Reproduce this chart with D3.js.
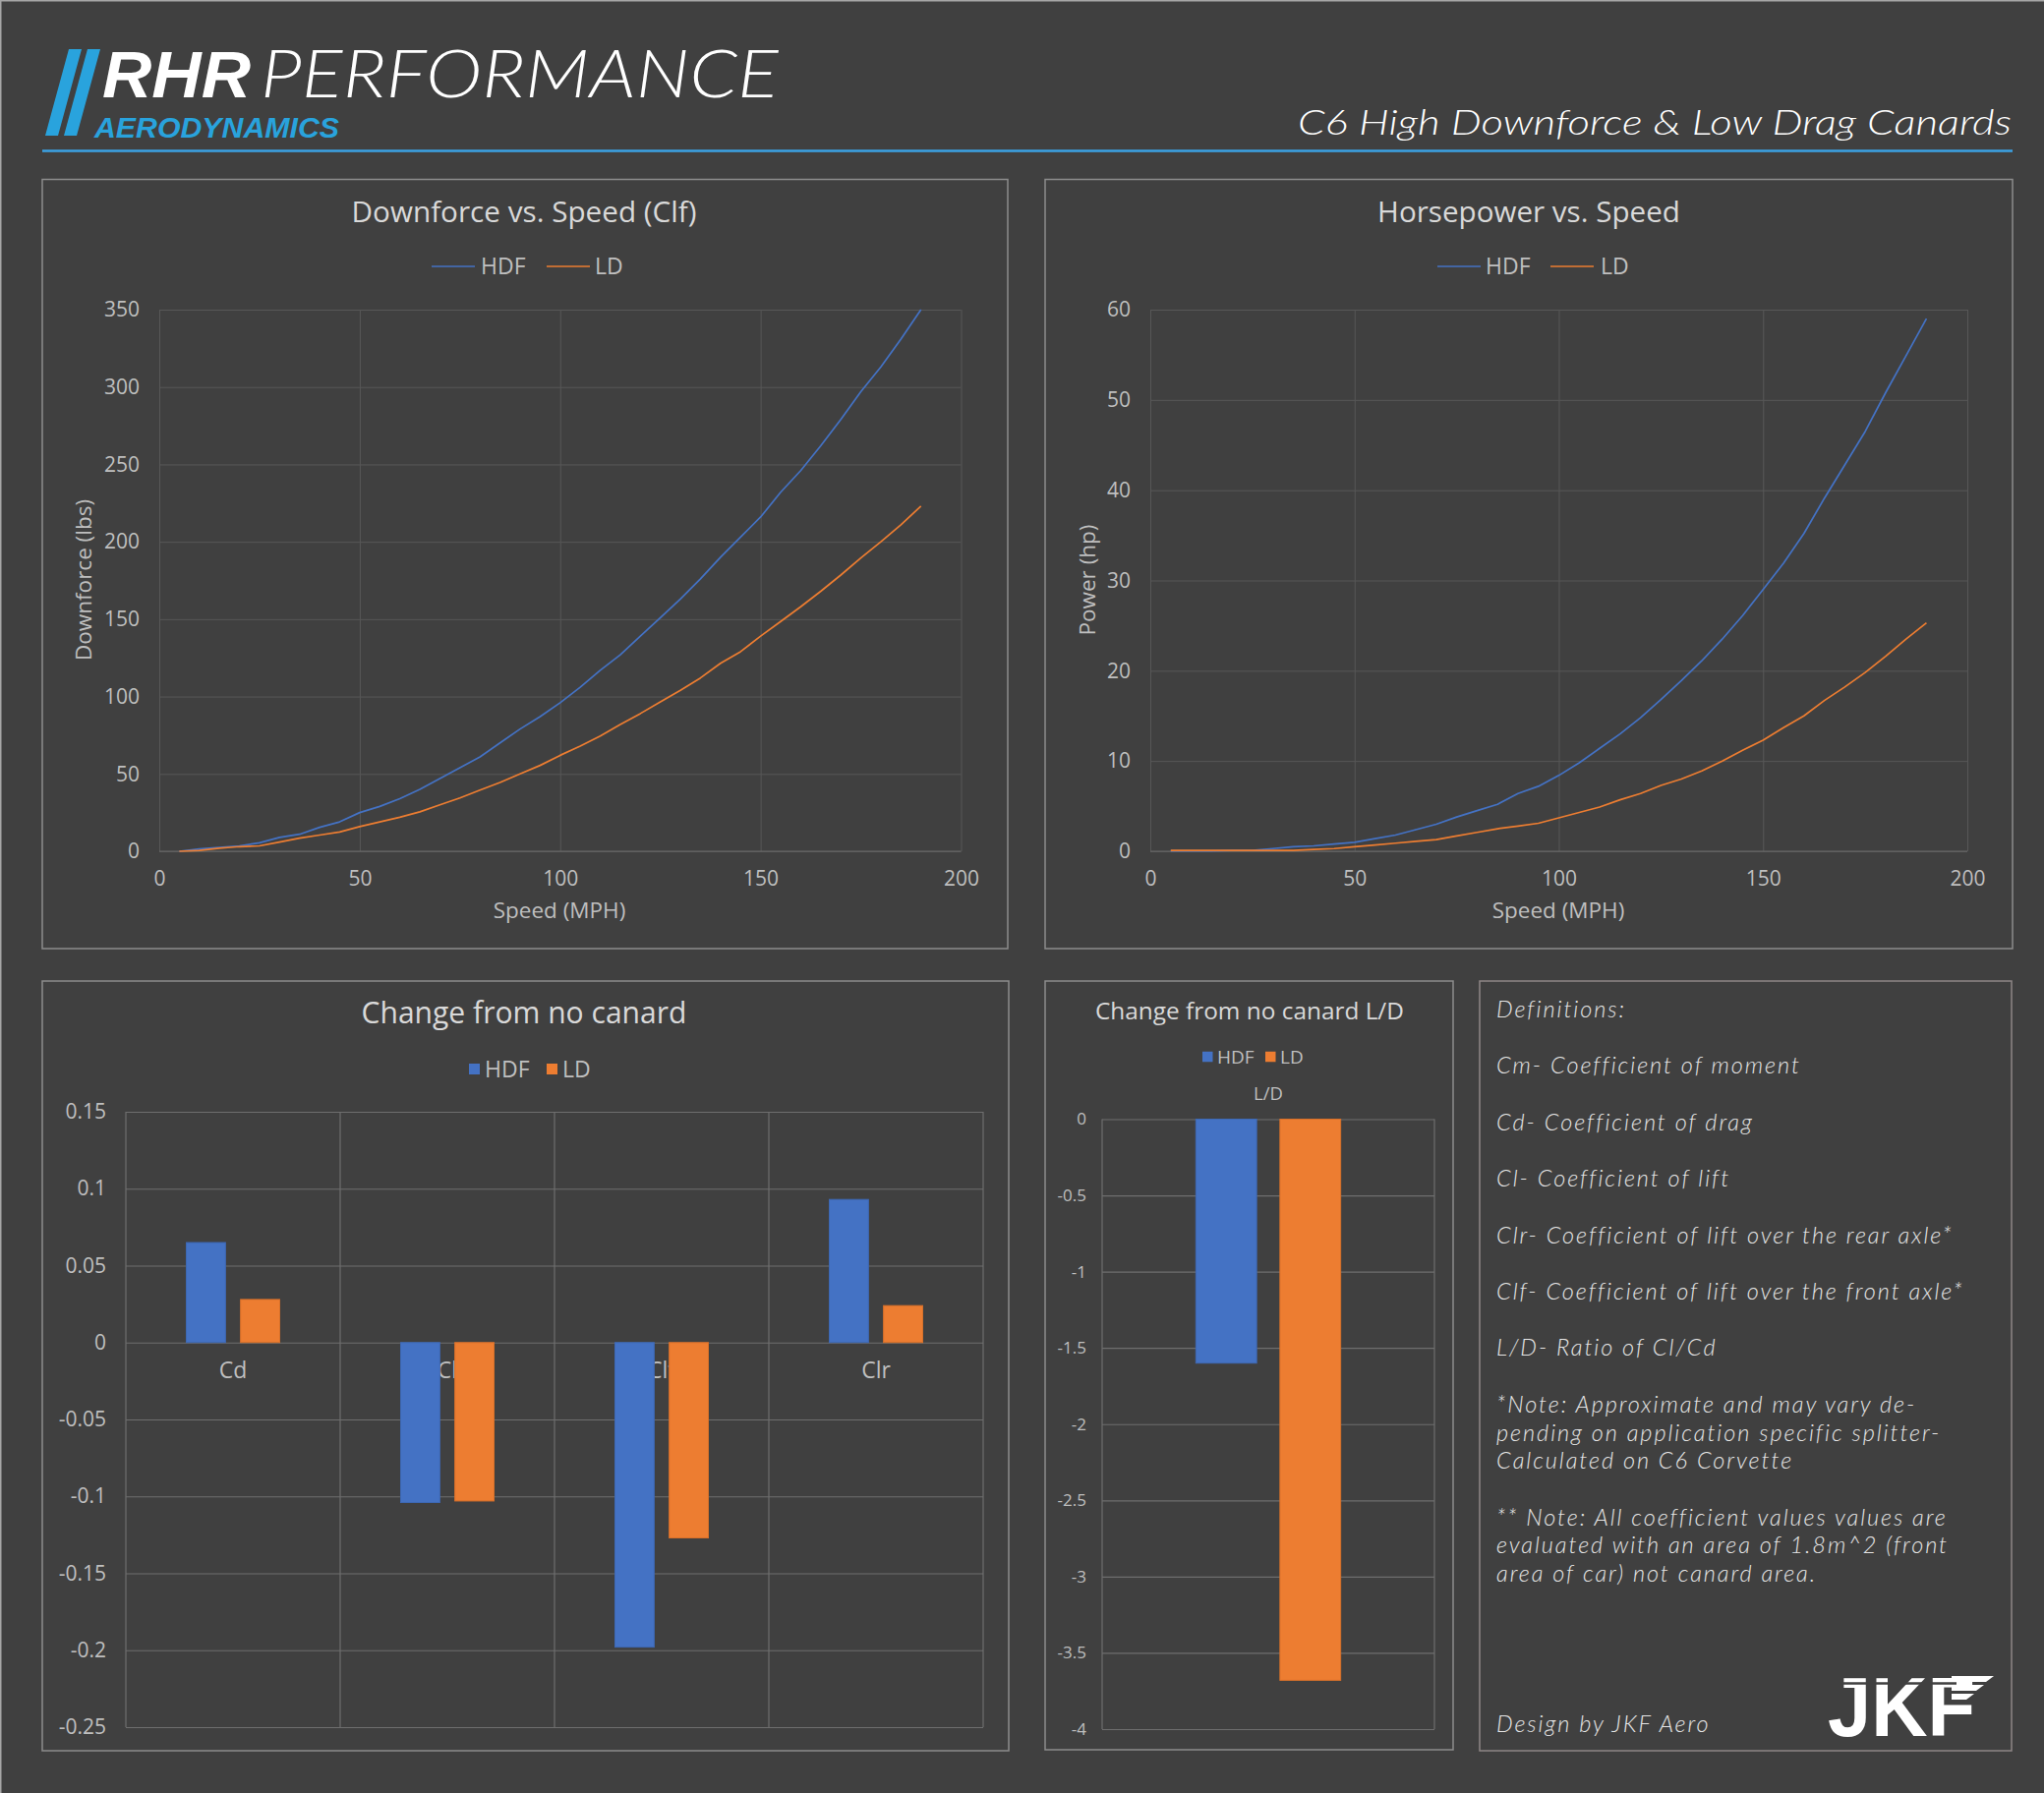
<!DOCTYPE html>
<html><head><meta charset="utf-8">
<script src="https://cdn.jsdelivr.net/npm/d3@7"></script>
<style>html,body{margin:0;padding:0;background:#404040;}svg{display:block}</style>
</head><body>
<script>
// ---------------- DATA ----------------
const speeds = [5,10,15,20,25,30,35,40,45,50,55,60,65,70,75,80,85,90,95,100,105,110,115,120,125,130,135,140,145,150,155,160,165,170,175,180,185,190];
const downforceHDF = [0,1.5,2.5,3.5,5.5,9,11,15.5,19,25,29,34,40,47,54,61,70,79,87,96,106,117,127,139,151,163,176,190,203,216,232,246,262,279,297,313,331,350];
const downforceLD = [0,0.5,2,3,3.5,6,8.5,10.5,12.5,16,19,22,25.5,30,34.5,39.5,44.5,50,55.5,62,68,74.5,82,89,96.5,104,112,121.5,129,139,148.5,158,168,178.5,189.5,200,211,223];
const powerHDF = [0.05,0.05,0.05,0.1,0.1,0.3,0.5,0.6,0.8,1.0,1.4,1.8,2.4,3.0,3.8,4.5,5.2,6.4,7.2,8.4,9.8,11.4,13.0,14.8,16.8,18.9,21.1,23.5,26.1,29.0,31.9,35.2,39.1,42.8,46.5,50.8,54.9,59.0];
const powerLD = [0.1,0.1,0.1,0.1,0.1,0.1,0.1,0.2,0.3,0.5,0.7,0.9,1.1,1.3,1.7,2.1,2.5,2.8,3.1,3.7,4.3,4.9,5.7,6.4,7.3,8.0,8.9,10.0,11.2,12.3,13.7,15.0,16.7,18.2,19.8,21.6,23.5,25.3];
const seriesNames = ["HDF","LD"];
const coefCategories = ["Cd","Cl","Clf","Clr"];
const coefHDF = [0.065,-0.104,-0.198,0.093];
const coefLD = [0.028,-0.103,-0.127,0.024];
const ldCategories = ["L/D"];
const ldHDF = [-1.6];
const ldLD = [-3.68];
const speedTicks = [0,50,100,150,200];
const downforceTicks = [0,50,100,150,200,250,300,350];
const powerTicks = [0,10,20,30,40,50,60];
const coefTicks = [0.15,0.1,0.05,0,-0.05,-0.1,-0.15,-0.2,-0.25];
const ldTicks = [0,-0.5,-1,-1.5,-2,-2.5,-3,-3.5,-4];
const definitions = ["Definitions:","","Cm- Coefficient of moment","","Cd- Coefficient of drag","","Cl- Coefficient of lift","","Clr- Coefficient of lift over the rear axle*","","Clf- Coefficient of lift over the front axle*","","L/D- Ratio of Cl/Cd","","*Note: Approximate and may vary de-","pending on application specific splitter-","Calculated on C6 Corvette","","** Note: All coefficient values values are","evaluated with an area of 1.8m^2 (front","area of car) not canard area."];

// ---------------- STYLE ----------------
const W = 2079, H = 1824;
const BG = "#404040";
const C_HDF = "#4472c4", C_LD = "#ed7d31";
const FONT = "'Open Sans', 'Noto Sans', sans-serif";
const TITLE_C = "#d9d9d9", TICK_C = "#bfbfbf";
const colors = {HDF: C_HDF, LD: C_LD};

const svg = d3.select("body").append("svg").attr("width", W).attr("height", H)
  .attr("font-family", FONT);
svg.append("rect").attr("width", W).attr("height", H).attr("fill", BG);
svg.append("line").attr("x1",0).attr("x2",W).attr("y1",0.75).attr("y2",0.75).attr("stroke","#a6a6a6").attr("stroke-width",1.5);
svg.append("line").attr("x1",0.75).attr("x2",0.75).attr("y1",0).attr("y2",H).attr("stroke","#a6a6a6").attr("stroke-width",1.5);

function fit(sel, target) {
  const w = sel.node().getComputedTextLength();
  const fs = parseFloat(sel.attr("font-size"));
  sel.attr("font-size", (fs * target / w).toFixed(2));
  return sel;
}

// ---------------- HEADER ----------------
const BLUE = "#29a3dd";
svg.append("polygon").attr("points","70,50 83,50 59,138 46,138").attr("fill", BLUE);
svg.append("polygon").attr("points","89,50 102,50 78,138 65,138").attr("fill", BLUE);
svg.append("text").attr("x",104).attr("y",99).attr("font-size",67).attr("font-weight",700)
  .attr("font-family","'Liberation Sans', Arial, sans-serif")
  .attr("font-style","italic").attr("fill","#ffffff").attr("textLength",151)
  .attr("lengthAdjust","spacingAndGlyphs").text("RHR");
svg.append("text").attr("x",265).attr("y",99).attr("font-size",68).attr("font-weight",300)
  .attr("font-family","Lato, 'Open Sans', sans-serif")
  .attr("font-style","italic").attr("fill","#ffffff").attr("textLength",527)
  .attr("lengthAdjust","spacingAndGlyphs").text("PERFORMANCE");
svg.append("text").attr("x",96).attr("y",139.5).attr("font-size",29).attr("font-weight",700)
  .attr("font-family","'Liberation Sans', Arial, sans-serif")
  .attr("font-style","italic").attr("fill",BLUE).attr("textLength",249)
  .attr("lengthAdjust","spacingAndGlyphs").text("AERODYNAMICS");
svg.append("text").attr("x",1320).attr("y",137).attr("font-size",35).attr("font-weight",300)
  .attr("font-family","Lato, 'Open Sans', sans-serif")
  .attr("font-style","italic").attr("fill","#ffffff").attr("textLength",726)
  .attr("lengthAdjust","spacingAndGlyphs").text("C6 High Downforce & Low Drag Canards");
svg.append("line").attr("x1",43).attr("x2",2047).attr("y1",153.5).attr("y2",153.5)
  .attr("stroke","#3ba2e4").attr("stroke-width",2.5);

// ---------------- PANELS ----------------
function panel(x0,y0,x1,y1,stroke){
  svg.append("rect").attr("x",x0).attr("y",y0).attr("width",x1-x0).attr("height",y1-y0)
    .attr("fill","none").attr("stroke",stroke||"#8c8c8c").attr("stroke-width",1.5);
}
panel(43,182.5,1025,965);
panel(1063,182.5,2047,965);
panel(43,998,1026,1781);
panel(1063,998,1478,1780);
panel(1505,998,2046,1781,"#8e8686");

// ---------------- LINE CHARTS ----------------
function lineChart(o){
  const g = svg.append("g");
  const x = d3.scaleLinear().domain([0,200]).range([o.px0,o.px1]);
  const y = d3.scaleLinear().domain(o.yDomain).range([o.py0,o.py1]);
  const ya = g.append("g").attr("transform",`translate(${o.px0},0)`)
    .call(d3.axisLeft(y).tickValues(o.yTicks).tickSize(-(o.px1-o.px0)).tickPadding(20).tickFormat(d=>String(d)));
  const xa = g.append("g").attr("transform",`translate(0,${o.py0})`)
    .call(d3.axisBottom(x).tickValues(speedTicks).tickSize(-(o.py0-o.py1)).tickPadding(20).tickFormat(d=>String(d)));
  [ya,xa].forEach(a=>{
    a.select(".domain").remove();
    a.selectAll(".tick line").attr("stroke","#575757").attr("stroke-width",1);
    a.selectAll(".tick text").attr("fill",TICK_C).attr("font-size",21).attr("font-family",FONT);
  });
  g.append("line").attr("x1",o.px0).attr("x2",o.px1).attr("y1",y(0)).attr("y2",y(0))
    .attr("stroke","#6a6a6a").attr("stroke-width",1.2);
  const line = d3.line().x((d,i)=>x(speeds[i])).y(d=>y(d));
  o.series.forEach(s=>{
    g.append("path").datum(s.values).attr("d",line).attr("fill","none")
      .attr("stroke",colors[s.name]).attr("stroke-width",1.7).attr("stroke-linejoin","round");
  });
  fit(g.append("text").attr("x",o.titleX).attr("y",226).attr("text-anchor","middle")
    .attr("font-size",28).attr("fill",TITLE_C).text(o.title), o.titleW);
  o.legend.forEach((l,i)=>{
    g.append("line").attr("x1",l[0]).attr("x2",l[0]+44).attr("y1",271).attr("y2",271)
      .attr("stroke",colors[seriesNames[i]]).attr("stroke-width",1.7);
    g.append("text").attr("x",l[1]).attr("y",279).attr("font-size",23).attr("fill",TICK_C).text(seriesNames[i]);
  });
  g.append("text").attr("x",o.xTitleX).attr("y",934).attr("text-anchor","middle")
    .attr("font-size",22.5).attr("fill",TICK_C).text("Speed (MPH)");
  g.append("text").attr("transform",`translate(${o.yTitleX},590) rotate(-90)`).attr("text-anchor","middle")
    .attr("font-size",22.5).attr("fill",TICK_C).text(o.yTitle);
}

lineChart({px0:162,px1:977.5,py0:866,py1:315,yDomain:[0,350],yTicks:downforceTicks,
  series:[{name:"HDF",values:downforceHDF},{name:"LD",values:downforceLD}],
  title:"Downforce vs. Speed (Clf)",titleX:533,titleW:351,
  legend:[[439,489],[556,605]],xTitleX:569,yTitleX:93,yTitle:"Downforce (lbs)"});

lineChart({px0:1170,px1:2001,py0:866,py1:315,yDomain:[0,60],yTicks:powerTicks,
  series:[{name:"HDF",values:powerHDF},{name:"LD",values:powerLD}],
  title:"Horsepower vs. Speed",titleX:1555,titleW:308,
  legend:[[1462,1511],[1577,1628]],xTitleX:1585,yTitleX:1114,yTitle:"Power (hp)"});

// ---------------- BAR CHARTS ----------------
function barChart(o){
  const g = svg.append("g");
  const x0 = d3.scaleBand().domain(o.categories).range([o.px0,o.px1]).paddingInner(0).paddingOuter(0);
  const x1 = d3.scaleBand().domain(seriesNames).range([0,x0.bandwidth()]).paddingInner(0.277).paddingOuter(1.115);
  const y = d3.scaleLinear().domain(o.yDomain).range([o.py0,o.py1]);
  const ya = g.append("g").attr("transform",`translate(${o.px0},0)`)
    .call(d3.axisLeft(y).tickValues(o.yTicks).tickSize(-(o.px1-o.px0)).tickPadding(o.pad).tickFormat(d=>String(d)));
  ya.select(".domain").remove();
  ya.selectAll(".tick line").attr("stroke","#6e6e6e").attr("stroke-width",1.2);
  ya.selectAll(".tick text").attr("fill",TICK_C).attr("font-size",o.tickFs).attr("font-family",FONT);
  const bounds = o.categories.map(c=>x0(c)).concat([o.px1]);
  g.selectAll(".vg").data(bounds).enter().append("line")
    .attr("x1",d=>d).attr("x2",d=>d).attr("y1",y(o.yDomain[0])).attr("y2",y(o.yDomain[1]))
    .attr("stroke","#6e6e6e").attr("stroke-width",1.2);
  g.selectAll(".cl").data(o.categories).enter().append("text")
    .attr("x",d=>x0(d)+x0.bandwidth()/2).attr("y",o.catY).attr("text-anchor","middle")
    .attr("font-size",o.catFs).attr("fill",TICK_C).text(d=>d);
  o.categories.forEach((c,i)=>{
    [["HDF",o.hdf[i]],["LD",o.ld[i]]].forEach(([s,v])=>{
      g.append("rect").attr("x",x0(c)+x1(s)).attr("width",x1.bandwidth())
        .attr("y",Math.min(y(0),y(v))).attr("height",Math.abs(y(v)-y(0)))
        .attr("fill",colors[s]).attr("stroke",s==="HDF"?"#3e68b4":"#d8702a").attr("stroke-width",1);
    });
  });
  fit(g.append("text").attr("x",o.titleX).attr("y",o.titleY).attr("text-anchor","middle")
    .attr("font-size",28).attr("fill",TITLE_C).text(o.title), o.titleW);
  o.legend.forEach((l,i)=>{
    g.append("rect").attr("x",l[0]).attr("y",o.legY - o.sq/2).attr("width",o.sq).attr("height",o.sq)
      .attr("fill",colors[seriesNames[i]]);
    g.append("text").attr("x",l[1]).attr("y",o.legY + o.legFs*0.36).attr("font-size",o.legFs)
      .attr("fill",TICK_C).text(seriesNames[i]);
  });
}

barChart({categories:coefCategories,hdf:coefHDF,ld:coefLD,px0:128,px1:1000,py0:1757,py1:1131,
  yDomain:[-0.25,0.15],yTicks:coefTicks,pad:20,tickFs:21,catY:1402,catFs:23,
  title:"Change from no canard",titleX:533,titleY:1041,titleW:331,
  legend:[[477,493],[556,572]],legY:1087.5,sq:11,legFs:23});

barChart({categories:ldCategories,hdf:ldHDF,ld:ldLD,px0:1121,px1:1459,py0:1759,py1:1138.5,
  yDomain:[-4,0],yTicks:ldTicks,pad:16,tickFs:17,catY:1119,catFs:18.5,
  title:"Change from no canard L/D",titleX:1271,titleY:1037,titleW:314,
  legend:[[1223,1238],[1287,1302]],legY:1075,sq:10.5,legFs:19});

// ---------------- DEFINITIONS ----------------
const dg = svg.append("g").attr("font-family","Lato, 'Open Sans', sans-serif").attr("font-style","italic")
  .attr("font-weight",300).attr("fill","#e6e6e6").attr("font-size",20);
const defTexts = dg.selectAll("text").data(definitions).enter().append("text")
  .attr("x",1522).attr("y",(d,i)=>1035 + i*28.7).text(d=>d);
const refW = defTexts.filter((d,i)=>i===10).node().getComputedTextLength();
let defFs = Math.min(23.5, 20*474/refW);
dg.attr("font-size", defFs.toFixed(2));
const refW2 = defTexts.filter((d,i)=>i===10).node().getComputedTextLength();
const ls = Math.max(0, (474 - refW2) / definitions[10].length);
dg.attr("letter-spacing", ls.toFixed(2));
dg.append("text").attr("x",1522).attr("y",1762).text("Design by JKF Aero");

// JKF logo
const lg = svg.append("g");
lg.append("text").attr("x",1859).attr("y",1766).attr("font-size",85).attr("font-weight",700)
  .attr("font-family","'Liberation Sans', Arial, sans-serif")
  .attr("fill","#ffffff").attr("textLength",150).attr("lengthAdjust","spacingAndGlyphs").text("JKF");
lg.append("polygon").attr("points","1985,1705 2028,1705 2020,1711 1985,1711").attr("fill","#ffffff");
lg.append("polygon").attr("points","1985,1714 2018,1714 2010,1720 1985,1720").attr("fill","#ffffff");
lg.append("polygon").attr("points","1985,1723 2008,1723 2000,1729 1985,1729").attr("fill","#ffffff");
lg.append("line").attr("x1",1855).attr("x2",1990).attr("y1",1712.5).attr("y2",1712.5).attr("stroke",BG).attr("stroke-width",2.5);
</script>
</body></html>
